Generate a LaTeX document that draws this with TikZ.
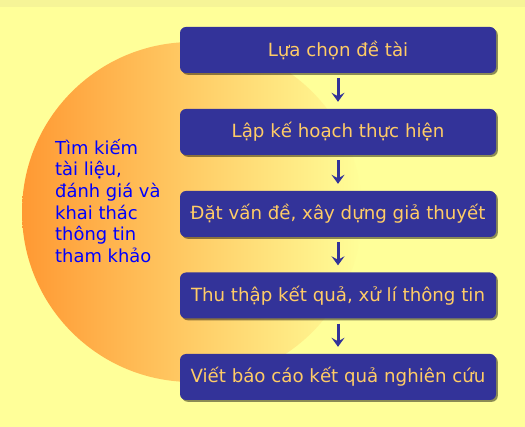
\documentclass[tikz,border=0pt]{standalone}
\usepackage{fontspec}
\setmainfont{DejaVu Sans}
\usetikzlibrary{arrows.meta,shadows}

\definecolor{bgyellow}{HTML}{FFFF99}
\definecolor{topband}{HTML}{F6F497}
\definecolor{sunorange}{HTML}{FF9933}
\definecolor{boxblue}{HTML}{333399}
\definecolor{boxtext}{HTML}{FFCC66}
\definecolor{sidetext}{HTML}{0000FF}

\tikzset{
    stagebox/.style={draw=none,fill=boxblue,text=boxtext,rounded corners=6pt,
        minimum width=316pt,minimum height=46pt,inner sep=0pt,
        font=\fontsize{18.2}{20}\selectfont,
        drop shadow={shadow xshift=1.8pt,shadow yshift=-1.8pt,fill=black,opacity=.45}},
    flowarrow/.style={-{Stealth[length=9pt,width=13pt,inset=3.5pt]},line width=3pt,
        draw=boxblue,shorten <=5pt,shorten >=7pt}
}

\begin{document}
\begin{tikzpicture}[x=1pt,y=-1pt]
    \useasboundingbox(0,0)rectangle(525,427);
    \fill[bgyellow](0,0)rectangle(525,427);
    \fill[topband](0,0)rectangle(525,7);
    \shade[left color=sunorange,right color=bgyellow](192,212)circle(170pt);

    \node[stagebox](chon)at(338,50){Lựa chọn đề tài};
    \node[stagebox](kehoach)at(338,132){Lập kế hoạch thực hiện};
    \node[stagebox](giathuyet)at(338,214){Đặt vấn đề, xây dựng giả thuyết};
    \node[stagebox](thuthap)at(338,295.5){Thu thập kết quả, xử lí thông tin};
    \node[stagebox](baocao)at(338,377){Viết báo cáo kết quả nghiên cứu};

    \draw[flowarrow](chon)--(kehoach);
    \draw[flowarrow](kehoach)--(giathuyet);
    \draw[flowarrow](giathuyet)--(thuthap);
    \draw[flowarrow](thuthap)--(baocao);

    \node[anchor=north west,inner sep=0pt,align=left,text=sidetext,
        font=\fontsize{17.9}{21.6}\selectfont](timkiem)at(55,139){Tìm kiếm\\tài liệu,\\đánh giá và\\khai thác\\thông tin\\tham khảo};
\end{tikzpicture}
\end{document}
